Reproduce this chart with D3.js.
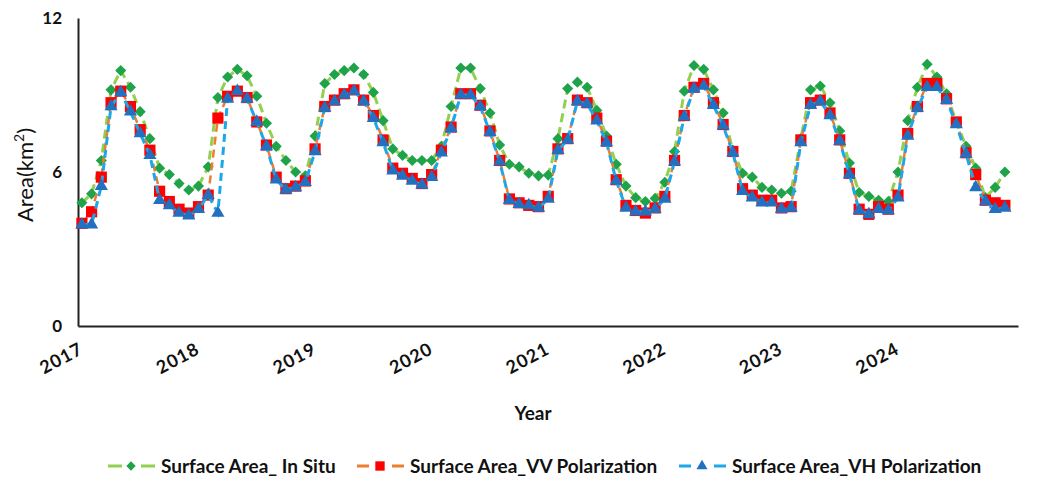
<!DOCTYPE html>
<html>
<head>
<meta charset="utf-8">
<script src="https://cdn.jsdelivr.net/npm/d3@7"></script>
<style>
  html, body { margin: 0; padding: 0; background: #fff; }
  svg { display: block; font-family: Lato, "Open Sans", sans-serif; }
</style>
</head>
<body>
<div id="chart"></div>
<script>
// monthly surface area (km2), Jan 2017 .. Dec 2024
const yearLabels = ['2017', '2018', '2019', '2020', '2021', '2022', '2023', '2024'];
const yTicks = [0, 6, 12];

const inSitu = [
  4.8, 5.15, 6.45, 9.2, 9.95, 9.3, 8.35, 7.3, 6.15, 5.9, 5.55, 5.3,
  5.45, 6.2, 8.9, 9.7, 10.0, 9.75, 8.95, 7.9, 7.0, 6.45, 6.0, 5.85,
  7.4, 9.45, 9.8, 9.95, 10.05, 9.8, 9.1, 8.0, 6.9, 6.65, 6.45, 6.45,
  6.45, 7.0, 8.55, 10.05, 10.05, 9.25, 8.3, 7.05, 6.3, 6.2, 5.95, 5.85,
  5.88, 7.3, 9.25, 9.5, 9.3, 8.4, 7.4, 6.3, 5.45, 5.0, 4.85, 4.97,
  5.6, 6.8, 9.15, 10.15, 10.0, 9.2, 8.3, 6.85, 5.95, 5.8, 5.4, 5.3,
  5.17, 5.25, 7.3, 9.2, 9.35, 8.7, 7.6, 6.35, 5.2, 5.05, 4.9, 4.85,
  6.0, 8.0, 9.3, 10.2, 9.7, 9.05, 7.95, 7.0, 6.15, 5.0, 5.4, 6.0
];

const vvPol = [
  4.0, 4.45, 5.8, 8.7, 9.15, 8.55, 7.65, 6.85, 5.25, 4.85, 4.55, 4.4,
  4.65, 5.1, 8.1, 8.95, 9.15, 8.9, 7.95, 7.05, 5.8, 5.35, 5.45, 5.65,
  6.9, 8.55, 8.8, 9.05, 9.2, 8.8, 8.2, 7.25, 6.15, 5.95, 5.75, 5.55,
  5.9, 6.85, 7.75, 9.05, 9.05, 8.6, 7.6, 6.45, 4.95, 4.8, 4.7, 4.65,
  5.05, 6.9, 7.3, 8.8, 8.7, 8.1, 7.2, 5.7, 4.7, 4.5, 4.4, 4.6,
  5.05, 6.45, 8.2, 9.3, 9.45, 8.7, 7.85, 6.8, 5.35, 5.1, 4.9, 4.9,
  4.6, 4.65, 7.25, 8.7, 8.8, 8.3, 7.25, 5.95, 4.55, 4.35, 4.65, 4.55,
  5.1, 7.5, 8.55, 9.45, 9.45, 8.85, 7.95, 6.75, 5.9, 4.9, 4.8, 4.7
];

const vhPol = [
  3.95, 3.95, 5.45, 8.55, 9.1, 8.35, 7.5, 6.65, 4.9, 4.7, 4.4, 4.3,
  4.55, 5.1, 4.4, 8.85, 9.15, 8.85, 7.95, 7.0, 5.7, 5.3, 5.4, 5.6,
  6.8, 8.5, 8.75, 9.0, 9.15, 8.75, 8.1, 7.15, 6.05, 5.85, 5.65, 5.5,
  5.8, 6.75, 7.7, 9.0, 9.0, 8.55, 7.55, 6.4, 4.9, 4.75, 4.7, 4.6,
  4.95, 6.85, 7.25, 8.75, 8.65, 8.0, 7.15, 5.65, 4.6, 4.45, 4.45, 4.55,
  4.95, 6.4, 8.15, 9.25, 9.35, 8.6, 7.8, 6.75, 5.25, 5.0, 4.8, 4.8,
  4.55, 4.6, 7.15, 8.6, 8.75, 8.2, 7.2, 5.9, 4.5, 4.35, 4.55, 4.5,
  5.0, 7.4, 8.5, 9.3, 9.3, 8.8, 7.85, 6.7, 5.4, 4.85, 4.55, 4.6
];

const series = [
  { name: 'Surface Area_ In Situ', values: inSitu, line: '#92d050', marker: '#1fa34a', shape: d3.symbolSquare, rotate: 45, size: 62, dash: '9,5', width: 3 },
  { name: 'Surface Area_VV Polarization', values: vvPol, line: '#ed7d31', marker: '#ff0000', shape: d3.symbolSquare, rotate: 0, size: 125, dash: '8,5', width: 2.5 },
  { name: 'Surface Area_VH Polarization', values: vhPol, line: '#1ea7e8', marker: '#2270c0', shape: d3.symbolTriangle, rotate: 0, size: 75, dash: '8,5', width: 3 }
];

const W = 1040, H = 479;
const svg = d3.select('#chart').append('svg')
  .attr('width', W)
  .attr('height', H);

const x = d3.scaleLinear().domain([-0.4, 96.35]).range([78, 1018]);
const y = d3.scaleLinear().domain([0, 12]).range([326, 18]);

// y axis
const yAxis = svg.append('g')
  .attr('transform', 'translate(78,0)')
  .call(d3.axisLeft(y).tickValues(yTicks).tickSize(0).tickPadding(16).tickSizeOuter(0));
yAxis.select('.domain').attr('stroke', '#222').attr('stroke-width', 2);
yAxis.selectAll('text')
  .attr('font-family', 'Lato, sans-serif')
  .attr('font-size', 17)
  .attr('font-weight', 'bold')
  .attr('fill', '#111');

// x axis
const xAxis = svg.append('g')
  .attr('transform', 'translate(0,326)')
  .call(d3.axisBottom(x)
    .tickValues(yearLabels.map((d, i) => i * 12))
    .tickFormat((d, i) => yearLabels[i])
    .tickSize(0)
    .tickSizeOuter(0));
xAxis.select('.domain').attr('stroke', '#222').attr('stroke-width', 2);
xAxis.selectAll('text')
  .attr('font-family', 'Lato, sans-serif')
  .attr('font-size', 18)
  .attr('font-weight', 'bold')
  .attr('fill', '#111')
  .attr('text-anchor', 'end')
  .attr('dy', null)
  .attr('y', 0)
  .attr('letter-spacing', 1)
  .attr('transform', 'translate(2,27) rotate(-28)');

// axis titles
svg.append('text')
  .attr('transform', 'translate(33,175) rotate(-90)')
  .attr('text-anchor', 'middle')
  .attr('font-size', 22)
  .attr('fill', '#111')
  .text('Area(km')
  .call(t => t.append('tspan').attr('font-size', 14).attr('dy', -9).text('2'))
  .call(t => t.append('tspan').attr('dy', 9).text(')'));

svg.append('text')
  .attr('x', 533)
  .attr('y', 420)
  .attr('text-anchor', 'middle')
  .attr('font-size', 19)
  .attr('font-weight', 'bold')
  .attr('fill', '#111')
  .text('Year');

// series
const line = d3.line().x((d, i) => x(i)).y(d => y(d));

series.forEach(s => {
  svg.append('path')
    .datum(s.values)
    .attr('fill', 'none')
    .attr('stroke', s.line)
    .attr('stroke-width', s.width)
    .attr('stroke-dasharray', s.dash)
    .attr('d', line);

  svg.append('g')
    .selectAll('path')
    .data(s.values)
    .join('path')
    .attr('transform', (d, i) => `translate(${x(i)},${y(d)}) rotate(${s.rotate})`)
    .attr('d', d3.symbol().type(s.shape).size(s.size))
    .attr('fill', s.marker);
});

// legend
const legendX = [108, 357, 679];
const legend = svg.append('g').attr('transform', 'translate(0,466)');
series.forEach((s, i) => {
  const g = legend.append('g').attr('transform', `translate(${legendX[i]},0)`);
  g.append('line')
    .attr('x1', 0).attr('x2', 47)
    .attr('stroke', s.line)
    .attr('stroke-width', 3)
    .attr('stroke-dasharray', i === 0 ? '14,19' : '12,23');
  g.append('path')
    .attr('transform', `translate(23,0) rotate(${s.rotate})`)
    .attr('d', d3.symbol().type(s.shape).size(s.size * 0.7))
    .attr('fill', s.marker);
  g.append('text')
    .attr('x', 53)
    .attr('dy', '0.35em')
    .attr('font-size', 19)
    .attr('font-weight', 'bold')
    .attr('fill', '#111')
    .text(s.name);
});
</script>
</body>
</html>
